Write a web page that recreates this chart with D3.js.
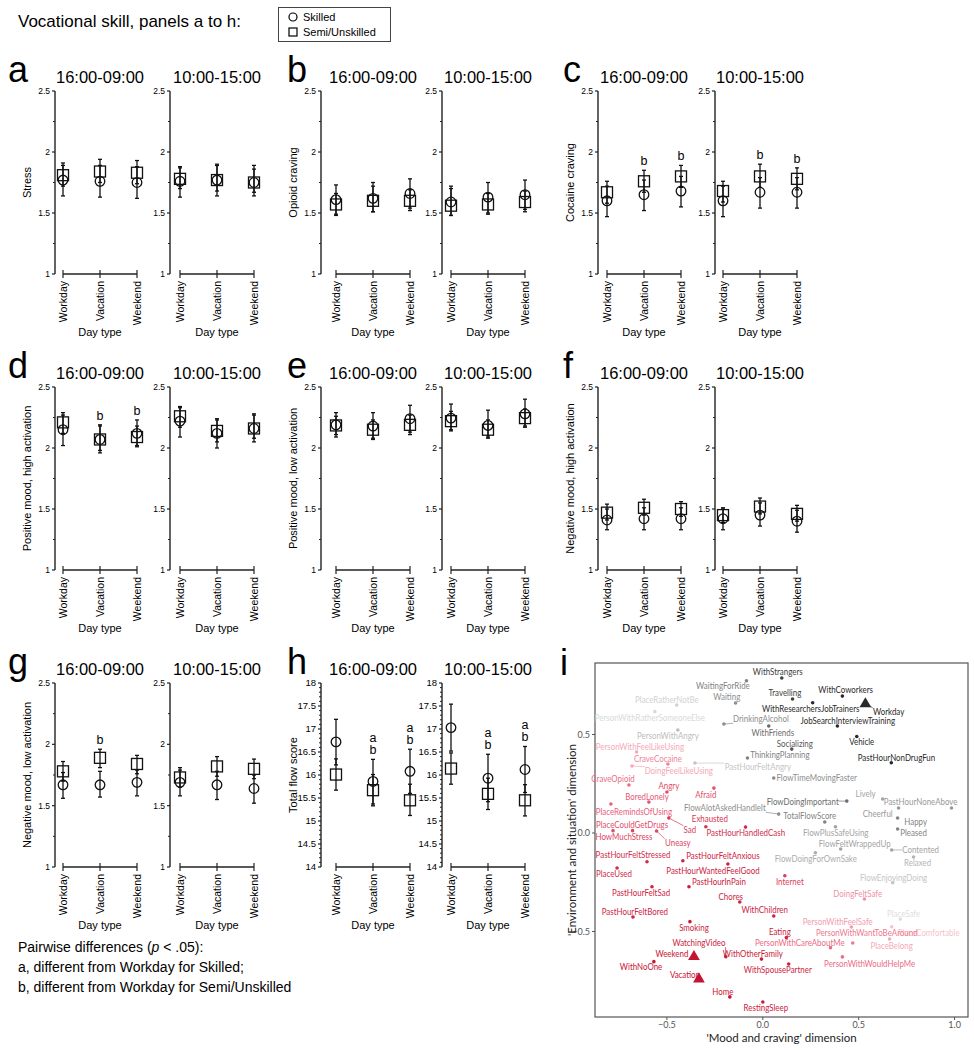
<!DOCTYPE html>
<html>
<head>
<meta charset="utf-8">
<script src="https://cdn.jsdelivr.net/npm/d3@7"></script>
<style>
body { margin: 0; background: #fff; }
svg { display: block; font-family: 'Liberation Sans', Arial, sans-serif; }
</style>
</head>
<body>
<svg id="chart" width="974" height="1050"></svg>
<script>
// ---- data: panels a to h ----
const dayTypes = ['Workday', 'Vacation', 'Weekend'];
const timeWindows = ['16:00-09:00', '10:00-15:00'];

// [mean, lower, upper]; first three = 16:00-09:00, last three = 10:00-15:00
const stressSkilled = [[1.77, 1.64, 1.89], [1.76, 1.63, 1.89], [1.75, 1.62, 1.88], [1.76, 1.63, 1.87], [1.77, 1.64, 1.89], [1.75, 1.64, 1.86]];
const stressSemi = [[1.81, 1.72, 1.91], [1.84, 1.75, 1.94], [1.83, 1.74, 1.93], [1.78, 1.70, 1.88], [1.77, 1.68, 1.90], [1.75, 1.67, 1.89]];
const stressMarks = ['', '', '', '', '', ''];

const opioidSkilled = [[1.61, 1.49, 1.73], [1.62, 1.51, 1.72], [1.66, 1.54, 1.78], [1.59, 1.48, 1.70], [1.63, 1.50, 1.75], [1.65, 1.53, 1.77]];
const opioidSemi = [[1.57, 1.48, 1.66], [1.60, 1.51, 1.75], [1.60, 1.52, 1.69], [1.56, 1.48, 1.72], [1.57, 1.49, 1.66], [1.59, 1.51, 1.68]];
const opioidMarks = ['', '', '', '', '', ''];

const cocaineSkilled = [[1.60, 1.47, 1.72], [1.65, 1.52, 1.77], [1.68, 1.55, 1.80], [1.60, 1.47, 1.72], [1.67, 1.54, 1.79], [1.67, 1.54, 1.79]];
const cocaineSemi = [[1.67, 1.58, 1.76], [1.76, 1.67, 1.85], [1.80, 1.71, 1.89], [1.68, 1.59, 1.76], [1.80, 1.71, 1.90], [1.78, 1.69, 1.87]];
const cocaineMarks = ['', 'b', 'b', '', 'b', 'b'];

const posHighSkilled = [[2.15, 2.02, 2.27], [2.07, 1.96, 2.18], [2.12, 2.01, 2.23], [2.22, 2.09, 2.33], [2.12, 2.00, 2.23], [2.16, 2.05, 2.27]];
const posHighSemi = [[2.21, 2.12, 2.29], [2.07, 1.98, 2.19], [2.09, 2.02, 2.18], [2.26, 2.17, 2.34], [2.14, 2.05, 2.24], [2.16, 2.08, 2.28]];
const posHighMarks = ['', 'b', 'b', '', '', ''];

const posLowSkilled = [[2.19, 2.09, 2.29], [2.18, 2.08, 2.29], [2.24, 2.13, 2.35], [2.245, 2.15, 2.36], [2.185, 2.09, 2.31], [2.28, 2.18, 2.40]];
const posLowSemi = [[2.185, 2.11, 2.26], [2.15, 2.07, 2.23], [2.19, 2.11, 2.27], [2.22, 2.14, 2.30], [2.15, 2.08, 2.23], [2.245, 2.17, 2.32]];
const posLowMarks = ['', '', '', '', '', ''];

const negHighSkilled = [[1.41, 1.33, 1.50], [1.42, 1.33, 1.51], [1.42, 1.33, 1.51], [1.42, 1.33, 1.50], [1.45, 1.36, 1.55], [1.40, 1.31, 1.49]];
const negHighSemi = [[1.47, 1.41, 1.54], [1.51, 1.45, 1.58], [1.50, 1.44, 1.56], [1.45, 1.39, 1.51], [1.52, 1.46, 1.59], [1.46, 1.40, 1.53]];
const negHighMarks = ['', '', '', '', '', ''];

const negLowSkilled = [[1.67, 1.56, 1.77], [1.67, 1.57, 1.78], [1.69, 1.58, 1.79], [1.69, 1.58, 1.79], [1.67, 1.55, 1.78], [1.64, 1.52, 1.75]];
const negLowSemi = [[1.78, 1.70, 1.86], [1.89, 1.81, 1.96], [1.84, 1.76, 1.91], [1.73, 1.65, 1.81], [1.82, 1.74, 1.90], [1.80, 1.72, 1.88]];
const negLowMarks = ['', 'b', '', '', '', ''];

const flowSkilled = [[16.72, 16.22, 17.21], [15.86, 15.37, 16.34], [16.08, 15.60, 16.56], [17.03, 16.52, 17.54], [15.93, 15.42, 16.45], [16.12, 15.62, 16.62]];
const flowSemi = [[16.01, 15.67, 16.35], [15.67, 15.33, 16.01], [15.45, 15.12, 15.80], [16.14, 15.80, 16.48], [15.59, 15.25, 15.93], [15.45, 15.11, 15.79]];
const flowMarks = ['', 'ab', 'ab', '', 'ab', 'ab'];

const panelLetters = ['a', 'b', 'c', 'd', 'e', 'f', 'g', 'h'];
const panelLabels = ['Stress', 'Opioid craving', 'Cocaine craving', 'Positive mood, high activation',
    'Positive mood, low activation', 'Negative mood, high activation', 'Negative mood, low activation', 'Total flow score'];

// ---- data: panel i (label, x, y, label x, label y, tone) ----
const mcaLabels = ['WithStrangers', 'WaitingForRide', 'Waiting', 'PlaceRatherNotBe', 'PersonWithRatherSomeoneElse',
    'DrinkingAlcohol', 'Travelling', 'WithCoworkers', 'Workday', 'WithResearchersJobTrainers',
    'JobSearchInterviewTraining', 'PersonWithAngry', 'WithFriends', 'Socializing', 'ThinkingPlanning',
    'PastHourFeltAngry', 'FlowTimeMovingFaster', 'PersonWithFeelLikeUsing', 'CraveCocaine', 'DoingFeelLikeUsing',
    'CraveOpioid', 'Angry', 'Afraid', 'BoredLonely', 'PlaceRemindsOfUsing',
    'FlowAlotAskedHandleIt', 'FlowDoingImportant', 'TotalFlowScore', 'Lively', 'PastHourNoneAbove',
    'Cheerful', 'Happy', 'Pleased', 'PastHourNonDrugFun', 'Vehicle',
    'FlowPlusSafeUsing', 'FlowFeltWrappedUp', 'Contented', 'Relaxed', 'FlowDoingForOwnSake',
    'FlowEnjoyingDoing', 'DoingFeltSafe', 'PlaceSafe', 'PlaceComfortable', 'PersonWithFeelSafe',
    'PersonWithWantToBeAround', 'PlaceBelong', 'PersonWithCareAboutMe', 'PersonWithWouldHelpMe', 'Eating',
    'WithSpousePartner', 'WithOtherFamily', 'WatchingVideo', 'Weekend', 'Vacation',
    'WithNoOne', 'Smoking', 'Home', 'RestingSleep', 'WithChildren',
    'Chores', 'Internet', 'PastHourInPain', 'PastHourWantedFeelGood', 'PastHourFeltAnxious',
    'PastHourFeltStressed', 'PlaceUsed', 'PastHourFeltSad', 'PastHourFeltBored', 'HowMuchStress',
    'PlaceCouldGetDrugs', 'Uneasy', 'Sad', 'Exhausted', 'PastHourHandledCash'];
const mcaX = [0.099, -0.085, -0.142, -0.449, -0.563,
    -0.203, 0.155, 0.415, 0.535, 0.260,
    0.389, -0.443, 0.031, 0.151, -0.080,
    -0.354, 0.057, -0.658, -0.495, -0.682,
    -0.698, -0.500, -0.255, -0.594, -0.792,
    0.083, 0.438, 0.323, 0.625, 0.984,
    0.708, 0.703, 0.703, 0.670, 0.490,
    0.379, 0.406, 0.672, 0.786, 0.274,
    0.677, 0.530, 0.717, 0.672, 0.462,
    0.469, 0.661, 0.353, 0.415, 0.123,
    0.135, -0.007, -0.193, -0.359, -0.333,
    -0.568, -0.380, -0.172, 0.000, 0.057,
    -0.120, 0.115, -0.385, -0.182, -0.417,
    -0.604, -0.760, -0.578, -0.677, -0.679,
    -0.781, -0.554, -0.490, -0.297, -0.090];
const mcaY = [0.787, 0.773, 0.660, 0.650, 0.616,
    0.553, 0.680, 0.695, 0.655, 0.661,
    0.543, 0.523, 0.543, 0.426, 0.381,
    0.355, 0.279, 0.411, 0.350, 0.340,
    0.244, 0.208, 0.228, 0.157, 0.147,
    0.096, 0.162, 0.056, 0.173, 0.127,
    0.127, 0.076, 0.020, 0.357, 0.490,
    0.032, -0.081, -0.086, -0.122, -0.100,
    -0.252, -0.335, -0.437, -0.476, -0.477,
    -0.558, -0.538, -0.582, -0.629, -0.531,
    -0.665, -0.640, -0.628, -0.628, -0.741,
    -0.653, -0.450, -0.832, -0.858, -0.421,
    -0.350, -0.217, -0.273, -0.157, -0.141,
    -0.146, -0.178, -0.273, -0.426, 0.012,
    0.012, 0.010, 0.076, 0.032, 0.030];
const mcaLabelX = [0.078, -0.208, -0.188, -0.500, -0.589,
    -0.010, 0.115, 0.432, 0.656, 0.250,
    0.443, -0.495, 0.052, 0.167, 0.089,
    -0.026, 0.281, -0.641, -0.547, -0.438,
    -0.781, -0.490, -0.297, -0.604, -0.672,
    -0.198, 0.208, 0.245, 0.536, 0.823,
    0.599, 0.797, 0.786, 0.697, 0.516,
    0.380, 0.479, 0.823, 0.807, 0.276,
    0.682, 0.495, 0.734, 0.865, 0.391,
    0.542, 0.672, 0.193, 0.557, 0.089,
    0.078, -0.052, -0.333, -0.474, -0.406,
    -0.635, -0.359, -0.208, 0.016, 0.010,
    -0.167, 0.141, -0.229, -0.260, -0.208,
    -0.677, -0.776, -0.635, -0.667, -0.724,
    -0.682, -0.443, -0.380, -0.276, -0.089];
const mcaLabelY = [0.817, 0.746, 0.690, 0.675, 0.584,
    0.579, 0.711, 0.726, 0.614, 0.629,
    0.569, 0.492, 0.508, 0.452, 0.396,
    0.335, 0.279, 0.437, 0.376, 0.315,
    0.274, 0.239, 0.193, 0.183, 0.107,
    0.127, 0.157, 0.086, 0.198, 0.157,
    0.096, 0.056, 0.000, 0.383, 0.462,
    0.000, -0.056, -0.086, -0.152, -0.132,
    -0.228, -0.310, -0.411, -0.507, -0.452,
    -0.505, -0.574, -0.558, -0.665, -0.503,
    -0.695, -0.614, -0.558, -0.614, -0.721,
    -0.680, -0.482, -0.807, -0.888, -0.391,
    -0.325, -0.249, -0.249, -0.193, -0.117,
    -0.112, -0.208, -0.305, -0.401, -0.020,
    0.041, -0.051, 0.015, 0.071, 0.000];
// -1 = deep red ... 0 = pale ... 1 = dark grey
const mcaTone = [0.85, 0.55, 0.5, 0.12, 0.08,
    0.5, 0.85, 0.95, 0.95, 0.95,
    0.95, 0.25, 0.65, 0.75, 0.55,
    0.2, 0.5, -0.2, -0.35, -0.2,
    -0.45, -0.6, -0.6, -0.55, -0.5,
    0.5, 0.65, 0.55, 0.4, 0.45,
    0.45, 0.55, 0.55, 0.95, 0.95,
    0.4, 0.4, 0.4, 0.3, 0.35,
    0.2, -0.3, 0.05, -0.1, -0.25,
    -0.4, -0.2, -0.45, -0.45, -0.85,
    -0.85, -0.9, -0.9, -0.95, -0.95,
    -0.95, -0.9, -0.95, -0.9, -0.85,
    -0.85, -0.7, -0.9, -0.85, -0.85,
    -0.8, -0.8, -0.85, -0.85, -0.65,
    -0.6, -0.65, -0.7, -0.75, -0.8];
const mcaDayTypes = ['Workday', 'Weekend', 'Vacation'];
const mcaXTicks = [-0.5, 0, 0.5, 1.0];
const mcaYTicks = [-0.5, 0, 0.5];

// ---- layout ----
const svg = d3.select('#chart');

const panelSeries = [
    [stressSkilled, stressSemi, stressMarks],
    [opioidSkilled, opioidSemi, opioidMarks],
    [cocaineSkilled, cocaineSemi, cocaineMarks],
    [posHighSkilled, posHighSemi, posHighMarks],
    [posLowSkilled, posLowSemi, posLowMarks],
    [negHighSkilled, negHighSemi, negHighMarks],
    [negLowSkilled, negLowSemi, negLowMarks],
    [flowSkilled, flowSemi, flowMarks],
];

// axis x and first category x, for the two windows of each column
const colLayout = [
    [[55, 63], [170, 180]],
    [[321, 336], [442, 451]],
    [[598, 607], [715, 723]],
];
const rowLayout = [[91, 274], [387, 570], [683, 867]];
const letterX = [8, 287, 563];

// title
svg.append('text')
    .attr('x', 18).attr('y', 27)
    .style('font-size', '17px')
    .attr('fill', '#000')
    .text('Vocational skill, panels a to h:');

// legend
const legend = svg.append('g');
legend.append('rect')
    .attr('x', 278.5).attr('y', 7.5).attr('width', 112).attr('height', 34)
    .attr('fill', 'none').attr('stroke', '#444').attr('stroke-width', 1);
legend.append('circle')
    .attr('cx', 293).attr('cy', 17).attr('r', 4)
    .attr('fill', 'none').attr('stroke', '#000').attr('stroke-width', 1.2);
legend.append('rect')
    .attr('x', 289).attr('y', 28).attr('width', 8).attr('height', 8)
    .attr('fill', 'none').attr('stroke', '#000').attr('stroke-width', 1.2);
legend.append('text').attr('x', 303).attr('y', 21).style('font-size', '11px').text('Skilled');
legend.append('text').attr('x', 303).attr('y', 36).style('font-size', '11px').text('Semi/Unskilled');

function drawPanel(p) {
    const row = Math.floor(p / 3), col = p % 3;
    const [yTop, yBottom] = rowLayout[row];
    const [skilled, semi, marks] = panelSeries[p];
    const isFlow = p === 7;
    const domain = isFlow ? [14, 18] : [1, 2.5];
    const majorStep = 0.5;
    const minorStep = isFlow ? 0.1 : 0.25;
    const g = svg.append('g').attr('fill', '#000');

    g.append('text')
        .attr('x', letterX[col]).attr('y', yTop - 9)
        .style('font-size', '36px')
        .text(panelLetters[p]);

    timeWindows.forEach(function (win, w) {
        const [axisX, cat0] = colLayout[col][w];
        const x = d3.scalePoint().domain(dayTypes).range([cat0, cat0 + 74]);
        const y = d3.scaleLinear().domain(domain).range([yBottom, yTop]);

        // y axis
        const majors = d3.range(domain[0], domain[1] + 1e-6, majorStep);
        const minors = d3.range(domain[0], domain[1] + 1e-6, minorStep)
            .filter(v => Math.abs(v / majorStep - Math.round(v / majorStep)) > 1e-6);
        g.append('line')
            .attr('x1', axisX).attr('x2', axisX).attr('y1', yTop).attr('y2', yBottom)
            .attr('stroke', '#222').attr('stroke-width', 1.4);
        g.selectAll(null).data(majors).join('line')
            .attr('x1', axisX - 3).attr('x2', axisX)
            .attr('y1', d => y(d)).attr('y2', d => y(d))
            .attr('stroke', '#222').attr('stroke-width', 1.2);
        g.selectAll(null).data(minors).join('line')
            .attr('x1', axisX - 2).attr('x2', axisX)
            .attr('y1', d => y(d)).attr('y2', d => y(d))
            .attr('stroke', '#222').attr('stroke-width', 1);
        g.selectAll(null).data(majors).join('text')
            .attr('x', axisX - 5).attr('y', d => y(d))
            .attr('text-anchor', 'end').attr('dy', '0.35em')
            .style('font-size', isFlow ? '9.5px' : '8.5px')
            .text(d => d3.format('~g')(d));

        // x axis
        g.append('line')
            .attr('x1', x('Workday')).attr('x2', x('Weekend')).attr('y1', yBottom).attr('y2', yBottom)
            .attr('stroke', '#222').attr('stroke-width', 1.4);
        g.selectAll(null).data(dayTypes).join('line')
            .attr('x1', d => x(d)).attr('x2', d => x(d))
            .attr('y1', yBottom - 4).attr('y2', yBottom + 4)
            .attr('stroke', '#222').attr('stroke-width', 1.2);
        g.selectAll(null).data(dayTypes).join('text')
            .attr('transform', d => `translate(${x(d) + 4},${yBottom + 7}) rotate(-90)`)
            .attr('text-anchor', 'end')
            .style('font-size', '10.5px')
            .text(d => d);
        g.append('text')
            .attr('x', x('Vacation')).attr('y', yBottom + 62)
            .attr('text-anchor', 'middle')
            .style('font-size', '11px')
            .text('Day type');

        // window title
        g.append('text')
            .attr('x', x('Vacation')).attr('y', yTop - 8)
            .attr('text-anchor', 'middle')
            .style('font-size', '16.5px')
            .text(win);

        if (w === 0) {
            g.append('text')
                .attr('transform', `translate(${axisX - 24},${(yTop + yBottom) / 2}) rotate(-90)`)
                .attr('text-anchor', 'middle')
                .style('font-size', '11px')
                .text(panelLabels[p]);
        }

        const rows = dayTypes.map((d, k) => ({
            day: d,
            skilled: skilled[w * 3 + k],
            semi: semi[w * 3 + k],
            mark: marks[w * 3 + k],
        }));

        // error bars
        ['skilled', 'semi'].forEach(function (key) {
            g.selectAll(null).data(rows).join('line')
                .attr('x1', d => x(d.day)).attr('x2', d => x(d.day))
                .attr('y1', d => y(d[key][1])).attr('y2', d => y(d[key][2]))
                .attr('stroke', '#111').attr('stroke-width', 1.3);
            [1, 2].forEach(function (j) {
                g.selectAll(null).data(rows).join('line')
                    .attr('x1', d => x(d.day) - 2).attr('x2', d => x(d.day) + 2)
                    .attr('y1', d => y(d[key][j])).attr('y2', d => y(d[key][j]))
                    .attr('stroke', '#111').attr('stroke-width', 1.3);
            });
        });

        g.selectAll(null).data(rows).join('circle')
            .attr('cx', d => x(d.day)).attr('cy', d => y(d.skilled[0])).attr('r', 4.8)
            .attr('fill', 'none').attr('stroke', '#111').attr('stroke-width', 1.3);
        g.selectAll(null).data(rows).join('rect')
            .attr('x', d => x(d.day) - 5.5).attr('y', d => y(d.semi[0]) - 5.5)
            .attr('width', 11).attr('height', 11)
            .attr('fill', 'none').attr('stroke', '#111').attr('stroke-width', 1.3);

        // significance letters
        rows.filter(d => d.mark).forEach(function (d) {
            const top = y(Math.max(d.skilled[2], d.semi[2]));
            const chars = d.mark.split('');
            chars.forEach(function (c, k) {
                g.append('text')
                    .attr('x', Math.round(x(d.day))).attr('y', Math.round(top - 5 - (chars.length - 1 - k) * 12.5))
                    .attr('text-anchor', 'middle')
                    .attr('fill', '#000')
                    .style('font-size', '12.5px')
                    .text(c);
            });
        });
    });
}

for (let p = 0; p < 8; p++) drawPanel(p);

// footnote
const note = svg.append('g').style('font-size', '14px').attr('fill', '#000');
const n1 = note.append('text').attr('x', 18).attr('y', 952);
n1.append('tspan').text('Pairwise differences (');
n1.append('tspan').style('font-style', 'italic').text('p');
n1.append('tspan').text(' < .05):');
note.append('text').attr('x', 18).attr('y', 972).text('a, different from Workday for Skilled;');
note.append('text').attr('x', 18).attr('y', 992).text('b, different from Workday for Semi/Unskilled');

// ---- panel i ----
const frame = { left: 595, right: 968, top: 663, bottom: 1017 };
const xi = d3.scaleLinear().domain([-0.875, 1.07]).range([frame.left, frame.right]);
const yi = d3.scaleLinear().domain([-0.934, 0.863]).range([frame.bottom, frame.top]);
const tone = d3.scaleLinear()
    .domain([-1, -0.5, -0.1, 0.05, 0.4, 1])
    .range(['#c20a2a', '#e8607c', '#f6c3cd', '#dedede', '#a4a4a4', '#1e1e1e']);
const labelSquash = 0.88;

const gi = svg.append('g').style('font-family', 'Lato, "Open Sans", sans-serif');
gi.append('text')
    .attr('x', 560).attr('y', 675)
    .style('font-size', '36px')
    .style('font-family', "'Liberation Sans', Arial, sans-serif")
    .text('i');
gi.append('rect')
    .attr('x', frame.left).attr('y', frame.top)
    .attr('width', frame.right - frame.left).attr('height', frame.bottom - frame.top)
    .attr('fill', 'none').attr('stroke', '#555').attr('stroke-width', 1.2);

gi.selectAll(null).data(mcaXTicks).join('line')
    .attr('x1', d => xi(d)).attr('x2', d => xi(d))
    .attr('y1', frame.bottom).attr('y2', frame.bottom + 3)
    .attr('stroke', '#555');
gi.selectAll(null).data(mcaXTicks).join('text')
    .attr('x', d => xi(d)).attr('y', frame.bottom + 11)
    .attr('text-anchor', 'middle')
    .style('font-size', '9px').attr('fill', '#555')
    .text(d3.format('.1f'));
gi.selectAll(null).data(mcaYTicks).join('line')
    .attr('x1', frame.left - 3).attr('x2', frame.left)
    .attr('y1', d => yi(d)).attr('y2', d => yi(d))
    .attr('stroke', '#555');
gi.selectAll(null).data(mcaYTicks).join('text')
    .attr('x', frame.left - 5).attr('y', d => yi(d))
    .attr('dy', '0.35em').attr('text-anchor', 'end')
    .style('font-size', '9px').attr('fill', '#555')
    .text(d3.format('.1f'));
gi.append('text')
    .attr('x', (frame.left + frame.right) / 2).attr('y', 1042)
    .attr('text-anchor', 'middle')
    .style('font-size', '11.5px').attr('fill', '#222')
    .text("'Mood and craving' dimension");
gi.append('text')
    .attr('transform', `translate(576,${(frame.top + frame.bottom) / 2}) rotate(-90)`)
    .attr('text-anchor', 'middle')
    .style('font-size', '11.5px').attr('fill', '#222')
    .text("'Environment and situation' dimension");

const mcaPoints = mcaLabels.map((name, k) => ({
    name: name, x: mcaX[k], y: mcaY[k], lx: mcaLabelX[k], ly: mcaLabelY[k], tone: mcaTone[k],
}));

const labels = gi.selectAll(null).data(mcaPoints).join('text')
    .attr('transform', d => `translate(${xi(d.lx)},${yi(d.ly)}) scale(${labelSquash},1)`)
    .attr('dy', '0.35em').attr('text-anchor', 'middle')
    .style('font-size', '9px')
    .attr('fill', d => tone(d.tone))
    .text(d => d.name);

// leader segments where label sits away from its point
labels.each(function (d) {
    const b = this.getBBox();
    const w = b.width * labelSquash;
    const left = xi(d.lx) - w / 2, top = yi(d.ly) + b.y;
    const px = xi(d.x), py = yi(d.y);
    const cx = Math.max(left, Math.min(px, left + w));
    const cy = Math.max(top + 1, Math.min(py, top + b.height - 1));
    const dist = Math.hypot(px - cx, py - cy);
    if (dist > 7) {
        gi.insert('line', 'text')
            .attr('x1', px).attr('y1', py).attr('x2', cx).attr('y2', cy)
            .attr('stroke', tone(d.tone)).attr('stroke-width', 0.7);
    }
});

gi.selectAll(null).data(mcaPoints.filter(d => !mcaDayTypes.includes(d.name))).join('circle')
    .attr('cx', d => xi(d.x)).attr('cy', d => yi(d.y)).attr('r', 1.8)
    .attr('fill', d => tone(d.tone));
gi.selectAll(null).data(mcaPoints.filter(d => mcaDayTypes.includes(d.name))).join('path')
    .attr('transform', d => `translate(${xi(d.x)},${yi(d.y)})`)
    .attr('d', d3.symbol().type(d3.symbolTriangle).size(60))
    .attr('fill', d => tone(d.tone));
</script>
</body>
</html>
